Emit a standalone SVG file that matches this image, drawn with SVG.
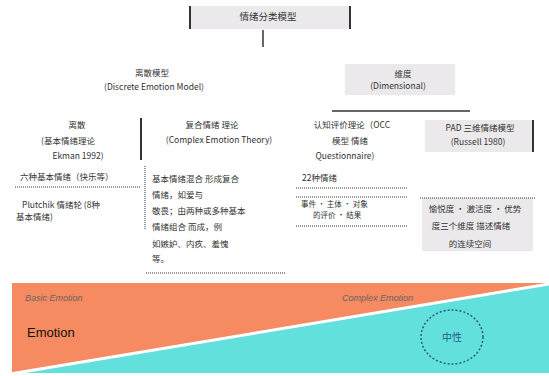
<svg xmlns="http://www.w3.org/2000/svg" width="549" height="376" viewBox="0 0 549 376">
<style>
text{font-family:"Noto Sans CJK SC","Liberation Sans",sans-serif;fill:#333;font-size:8.5px}
.c{text-anchor:middle}
.box{fill:#ebe9eb}
.bar{stroke:#333;stroke-width:2}
.ln{stroke:#333;stroke-width:1.5;fill:none}
.dot{stroke:#333;stroke-width:1;stroke-dasharray:1 1;fill:none}
.em{font-family:"Liberation Sans",sans-serif;font-style:italic;fill:#666;font-size:9px}
</style>
<rect width="549" height="376" fill="#fff"/>
<g id="root">
<rect class="box" x="190" y="6" width="160" height="23"/>
<line class="bar" x1="190" y1="6" x2="190" y2="29"/>
<line class="bar" x1="350" y1="6" x2="350" y2="29"/>
<text class="c" x="268" y="20" style="font-size:9.5px">情绪分类模型</text>
</g>
<g id="connectors">
<line class="ln" x1="263" y1="30" x2="263" y2="47"/>
<line class="ln" x1="332" y1="111" x2="470" y2="111"/>
<line class="bar" x1="141" y1="118" x2="141" y2="160"/>
<line class="dot" x1="145" y1="166" x2="145" y2="230"/>
</g>
<g id="discrete">
<text class="c" x="152" y="76">离散模型</text>
<text class="c" x="154" y="90">(Discrete Emotion Model)</text>
</g>
<g id="dimensional">
<rect class="box" x="345" y="64" width="110" height="31"/>
<text class="c" x="403" y="77">维度</text>
<text class="c" x="398" y="89">(Dimensional)</text>
</g>
<g id="basic">
<text class="c" x="77" y="128">离散</text>
<text class="c" x="68" y="144">(基本情绪理论</text>
<text class="c" x="78" y="159">Ekman 1992)</text>
</g>
<g id="basic-list">
<text x="20" y="180">六种基本情绪（快乐等）</text>
<line class="dot" x1="15" y1="187" x2="140" y2="187"/>
<text x="22" y="208">Plutchik 情绪轮 (8种</text>
<text x="16" y="220">基本情绪)</text>
</g>
<g id="complex">
<text class="c" x="212" y="128">复合情绪 理论</text>
<text class="c" x="219" y="143">(Complex Emotion Theory)</text>
</g>
<g id="complex-list">
<text x="152" y="182">基本情绪混合 形成复合</text>
<text x="152" y="198">情绪，如爱与</text>
<text x="152" y="214">敬畏；由两种或多种基本</text>
<text x="152" y="230">情绪组合        而成，例</text>
<text x="152" y="247">如嫉妒、内疚、羞愧</text>
<text x="152" y="262">等。</text>
<line class="dot" x1="146" y1="273" x2="285" y2="273"/>
</g>
<g id="appraisal">
<text class="c" x="352" y="128">认知评价理论（OCC</text>
<text class="c" x="350" y="144">模型 情绪</text>
<text class="c" x="345" y="159">Questionnaire)</text>
</g>
<g id="appraisal-list">
<text x="302" y="181">22种情绪</text>
<line class="dot" x1="296" y1="188" x2="408" y2="188"/>
<line class="dot" x1="296" y1="197" x2="408" y2="197"/>
<text x="301" y="207" style="font-size:7.5px">事件 · 主体 · 对象</text>
<text x="313" y="218" style="font-size:7.5px">的评价 · 结果</text>
<line class="dot" x1="296" y1="226" x2="408" y2="226"/>
</g>
<g id="pad">
<rect class="box" x="425" y="120" width="108" height="32"/>
<line class="bar" x1="533" y1="120" x2="533" y2="152"/>
<text class="c" x="480" y="131">PAD 三维情绪模型</text>
<text class="c" x="478" y="145">(Russell 1980)</text>
</g>
<g id="pad-list">
<rect class="box" x="422" y="198" width="111" height="53"/>
<line class="dot" x1="420" y1="198" x2="535" y2="198"/>
<text class="c" x="475" y="212">愉悦度 · 激活度 · 优势</text>
<text class="c" x="471" y="229">度三个维度 描述情绪</text>
<text class="c" x="470" y="247">的连续空间</text>
</g>
<g id="spectrum">
<rect x="12" y="283" width="537" height="90" fill="#f68a60"/>
<polygon points="12,373 549,285 549,373" fill="#62e0dc"/>
<line x1="10" y1="374" x2="549" y2="284" stroke="#fff" stroke-width="3"/>
<text class="em" x="25" y="301">Basic Emotion</text>
<text class="em" x="342" y="301">Complex Emotion</text>
<text x="27" y="337" style="font-family:'Liberation Sans',sans-serif;font-size:13px;fill:#111">Emotion</text>
<ellipse cx="452" cy="337" rx="31" ry="27" fill="none" stroke="#2a5a8a" stroke-width="1.5" stroke-dasharray="2 2"/>
<text class="c" x="452" y="341" style="fill:#2a5a8a;font-size:10px">中性</text>
</g>
</svg>
